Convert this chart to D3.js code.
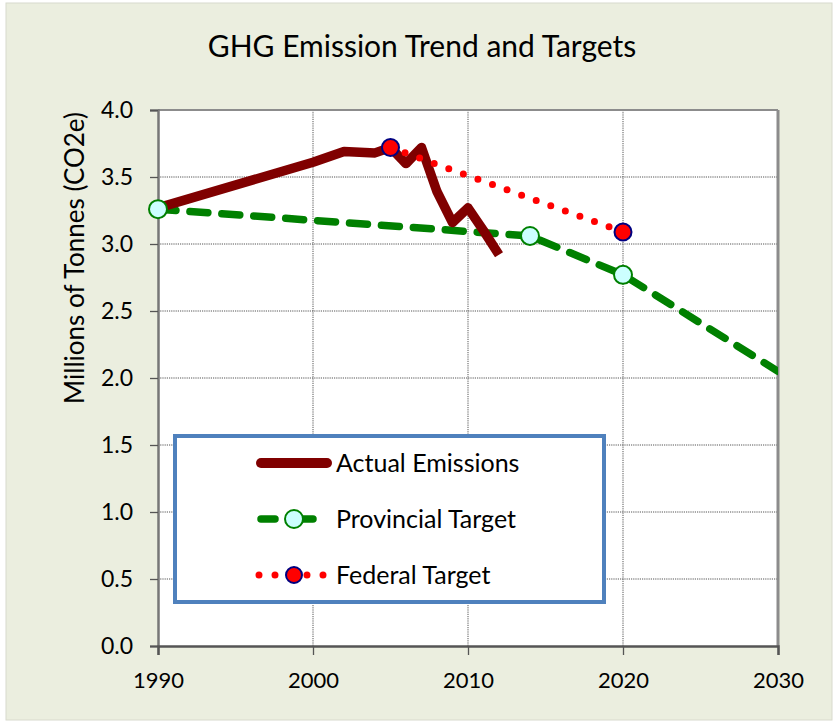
<!DOCTYPE html>
<html><head><meta charset="utf-8">
<script src="https://cdnjs.cloudflare.com/ajax/libs/d3/7.8.5/d3.min.js"></script>
<style>body{margin:0;background:#fff;}svg{display:block;font-family:Lato,"Open Sans",sans-serif;}</style>
</head><body>
<svg id="c" width="836" height="723"></svg>
<script>
// data
const actualYears = [1990, 2000, 2002, 2004, 2005, 2006, 2007, 2008, 2009, 2010, 2011, 2012];
const actualValues = [3.27, 3.61, 3.69, 3.68, 3.72, 3.60, 3.72, 3.39, 3.16, 3.27, 3.10, 2.92];
const provYears = [1990, 2014, 2020, 2030];
const provValues = [3.26, 3.06, 2.77, 2.05];
const provMarkerYears = [1990, 2014, 2020];
const fedYears = [2005, 2020];
const fedValues = [3.72, 3.09];
const xTicks = [1990, 2000, 2010, 2020, 2030];
const yTicks = [0, 0.5, 1, 1.5, 2, 2.5, 3, 3.5, 4];
const legendLabels = ["Actual Emissions", "Provincial Target", "Federal Target"];

const svg = d3.select("#c");
svg.append("rect").attr("x", 6).attr("y", 3).attr("width", 826).attr("height", 717)
  .attr("fill", "#ebeedf").attr("stroke", "#d8dacd").attr("stroke-width", 1);

const L = 158, R = 778, T = 110, B = 646;
const x = d3.scaleLinear().domain([1990, 2030]).range([L, R]);
const y = d3.scaleLinear().domain([0, 4]).range([B, T]);

svg.append("text").attr("x", 422).attr("y", 57).attr("text-anchor", "middle")
  .attr("font-size", 30).attr("fill", "#000").text("GHG Emission Trend and Targets");

svg.append("rect").attr("x", L).attr("y", T).attr("width", R - L).attr("height", B - T).attr("fill", "#fff");

// grid
const g = svg.append("g");
g.selectAll(".hg").data(yTicks.filter(v => v > 0 && v < 4)).join("line")
  .attr("x1", L).attr("x2", R).attr("y1", d => y(d)).attr("y2", d => y(d))
  .attr("stroke", "#555").attr("stroke-width", 1).attr("stroke-dasharray", "1.2,1");
g.selectAll(".vg").data(xTicks.filter(v => v > 1990 && v < 2030)).join("line")
  .attr("y1", T).attr("y2", B).attr("x1", d => x(d)).attr("x2", d => x(d))
  .attr("stroke", "#555").attr("stroke-width", 1).attr("stroke-dasharray", "1.2,1");
// top/right border
svg.append("line").attr("x1", L).attr("x2", R).attr("y1", T).attr("y2", T).attr("stroke", "#8c8c8c").attr("stroke-width", 2);
svg.append("line").attr("x1", R).attr("x2", R).attr("y1", T).attr("y2", B).attr("stroke", "#8c8c8c").attr("stroke-width", 3);

// axes
const yAxis = svg.append("g").attr("transform", `translate(${L},0)`)
  .call(d3.axisLeft(y).tickValues(yTicks).tickFormat(d3.format(".1f")).tickSize(8).tickPadding(17));
const xAxis = svg.append("g").attr("transform", `translate(0,${B})`)
  .call(d3.axisBottom(x).tickValues(xTicks).tickFormat(d3.format("d")).tickSize(9).tickPadding(17));
[yAxis, xAxis].forEach(a => {
  a.select(".domain").attr("stroke", "#777").attr("stroke-width", 2.5);
  a.selectAll(".tick line").attr("stroke", "#555").attr("stroke-width", 1.3);
  a.selectAll("text").attr("font-size", 22).attr("fill", "#000").attr("font-family", "Lato,sans-serif");
});
yAxis.selectAll("text").attr("font-size", 23);
xAxis.select(".domain").attr("stroke", "#555");

svg.append("text").attr("transform", "translate(84,258) rotate(-90)").attr("text-anchor", "middle")
  .attr("font-size", 26).attr("fill", "#000").text("Millions of Tonnes (CO2e)");

const clip = svg.append("clipPath").attr("id", "clip").append("rect")
  .attr("x", L - 20).attr("y", T - 20).attr("width", R - L + 20).attr("height", B - T + 40);

const line = d3.line().x(d => x(d[0])).y(d => y(d[1]));
const plot = svg.append("g").attr("clip-path", "url(#clip)");

// provincial
plot.append("path").datum(provYears.map((d, i) => [d, provValues[i]])).attr("d", line)
  .attr("fill", "none").attr("stroke", "#008000").attr("stroke-width", 7.5)
  .attr("stroke-linecap", "round").attr("stroke-dasharray", "18,14");
// actual
plot.append("path").datum(actualYears.map((d, i) => [d, actualValues[i]])).attr("d", line)
  .attr("fill", "none").attr("stroke", "#800000").attr("stroke-width", 9.5)
  .attr("stroke-linejoin", "round").attr("stroke-linecap", "butt");
// federal
plot.append("path").datum(fedYears.map((d, i) => [d, fedValues[i]])).attr("d", line)
  .attr("fill", "none").attr("stroke", "#ff0000").attr("stroke-width", 7)
  .attr("stroke-linecap", "round").attr("stroke-dasharray", "0,15.5");

svg.selectAll(".pm").data(provMarkerYears).join("circle")
  .attr("cx", d => x(d)).attr("cy", d => y(provValues[provYears.indexOf(d)])).attr("r", 9)
  .attr("fill", "#ccffff").attr("stroke", "#008000").attr("stroke-width", 2);
svg.selectAll(".fm").data(fedYears).join("circle")
  .attr("cx", d => x(d)).attr("cy", (d, i) => y(fedValues[i])).attr("r", 8.5)
  .attr("fill", "#ff0000").attr("stroke", "#000080").attr("stroke-width", 2);

// legend
const lg = svg.append("g");
lg.append("rect").attr("x", 175).attr("y", 436).attr("width", 429).attr("height", 166)
  .attr("fill", "#fff").attr("stroke", "#4f81bd").attr("stroke-width", 4);
const rows = [463, 519, 575];
const lx1 = 257, lx2 = 331;
lg.append("line").attr("x1", lx1 + 4).attr("x2", lx2 - 4).attr("y1", rows[0]).attr("y2", rows[0])
  .attr("stroke", "#800000").attr("stroke-width", 10).attr("stroke-linecap", "round");
lg.append("line").attr("x1", lx1 + 4).attr("x2", lx2).attr("y1", rows[1]).attr("y2", rows[1])
  .attr("stroke", "#008000").attr("stroke-width", 7.5).attr("stroke-linecap", "round").attr("stroke-dasharray", "14,24");
lg.append("circle").attr("cx", 294).attr("cy", rows[1]).attr("r", 9).attr("fill", "#ccffff").attr("stroke", "#008000").attr("stroke-width", 2);
lg.append("line").attr("x1", lx1 + 2).attr("x2", lx2).attr("y1", rows[2]).attr("y2", rows[2])
  .attr("stroke", "#ff0000").attr("stroke-width", 7).attr("stroke-linecap", "round").attr("stroke-dasharray", "0,16");
lg.append("circle").attr("cx", 294).attr("cy", rows[2]).attr("r", 8).attr("fill", "#ff0000").attr("stroke", "#000080").attr("stroke-width", 2);
lg.selectAll(".lt").data(legendLabels).join("text")
  .attr("x", 336).attr("y", (d, i) => rows[i]).attr("dy", "0.36em")
  .attr("font-size", 25).attr("fill", "#000").text(d => d);
</script>
</body></html>
